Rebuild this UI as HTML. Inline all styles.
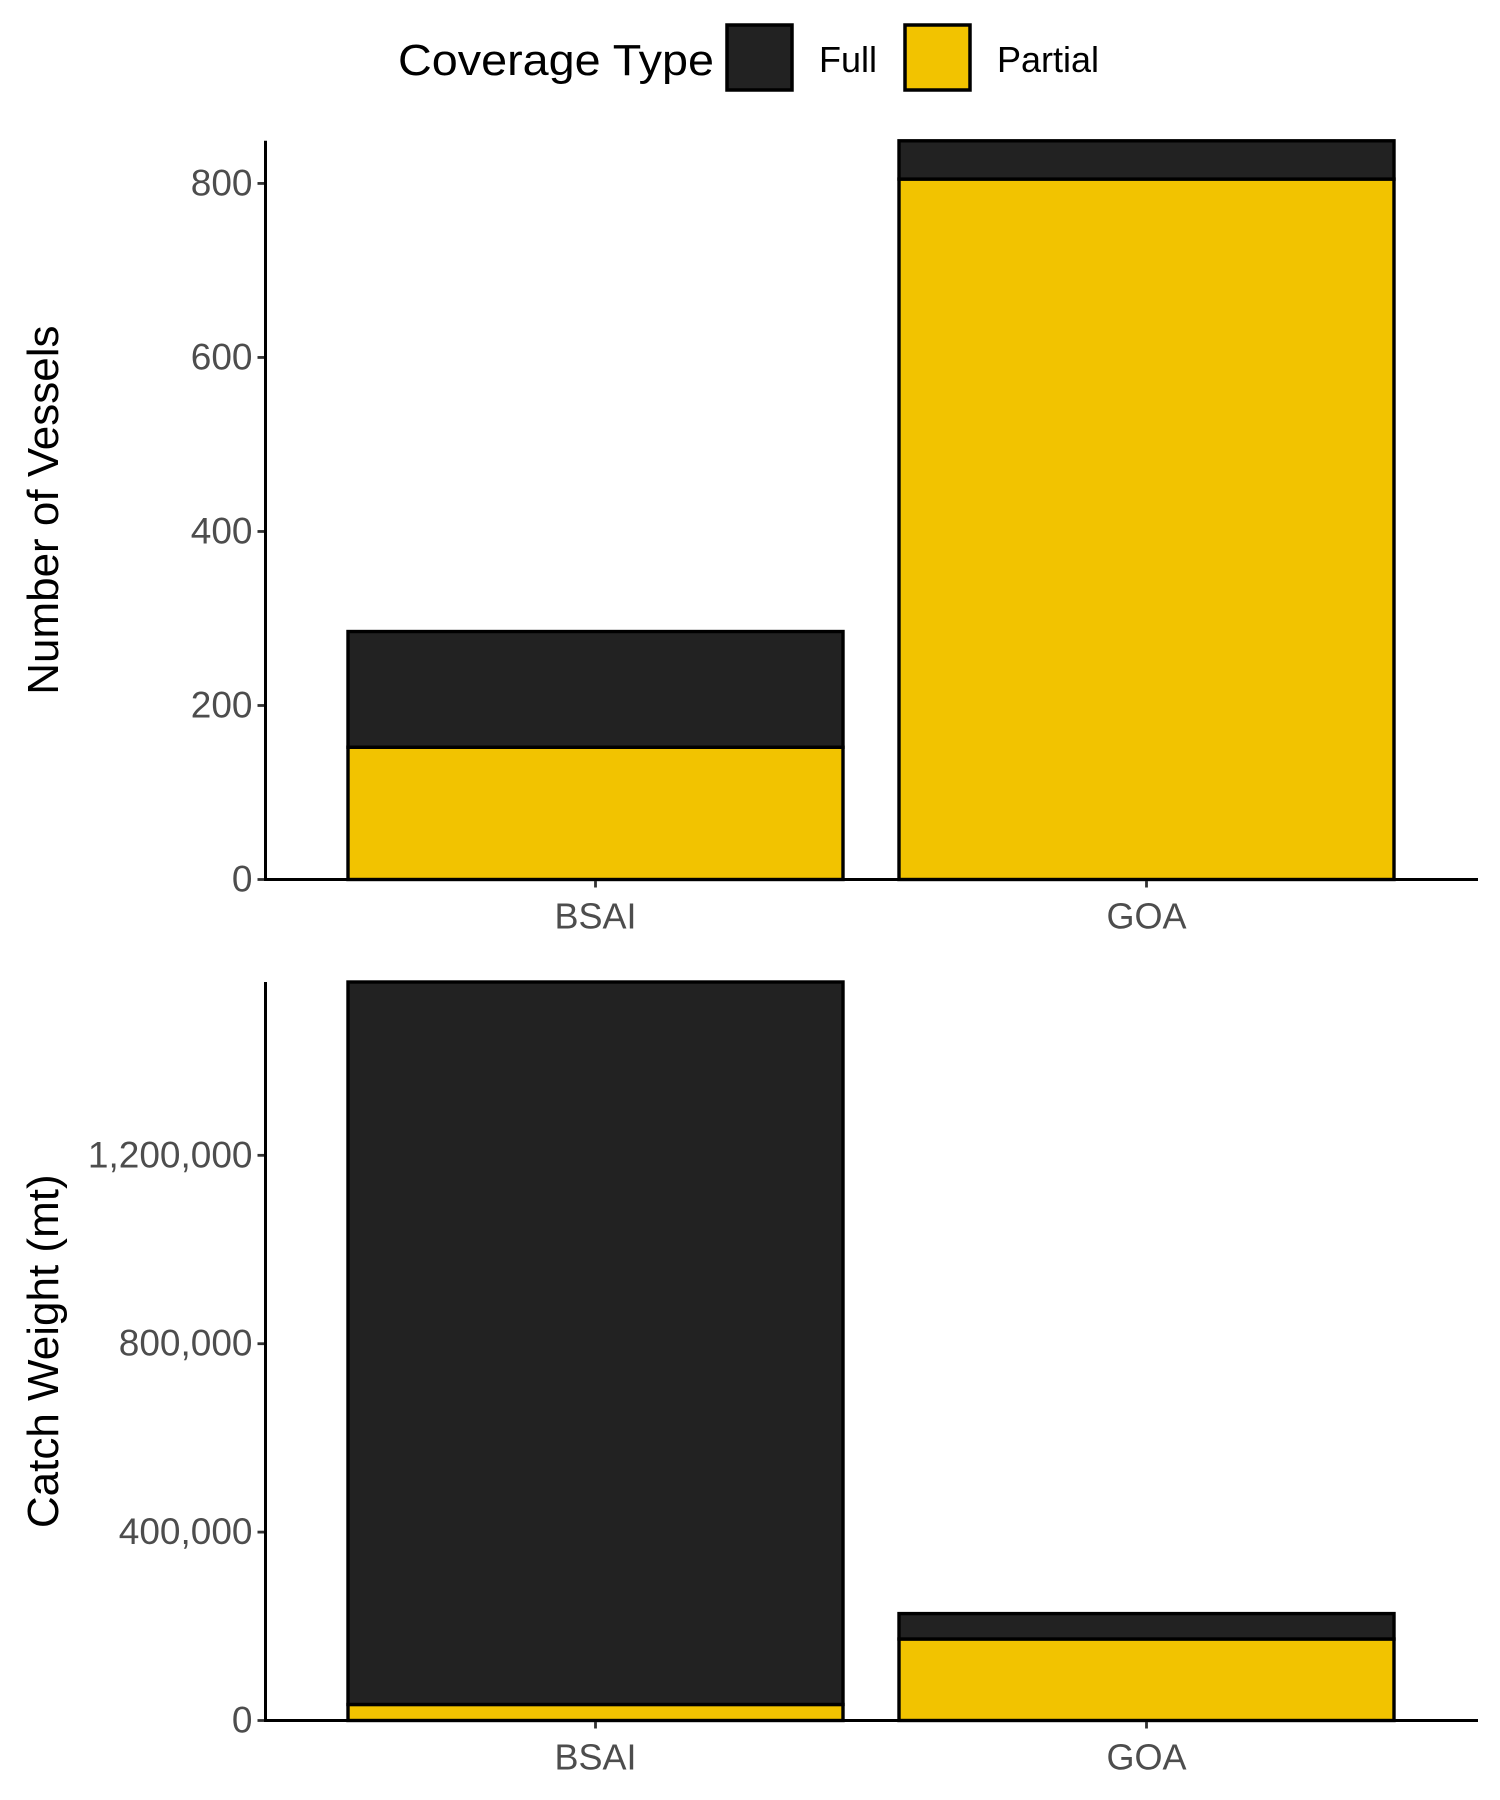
<!DOCTYPE html>
<html><head><meta charset="utf-8"><style>
html,body{margin:0;padding:0;background:#fff;}
svg{display:block;font-family:"Liberation Sans",Arial,sans-serif;}
</style></head><body>
<svg id="chart" width="1500" height="1800" viewBox="0 0 1500 1800" xmlns="http://www.w3.org/2000/svg">
<g>
<text x="398" y="75" font-size="44" fill="#000" textLength="316" lengthAdjust="spacingAndGlyphs">Coverage Type</text>
<rect x="727" y="25" width="65" height="65" fill="#222" stroke="#000" stroke-width="3.5"/>
<text x="819" y="72" font-size="36" fill="#000">Full</text>
<rect x="905" y="25" width="65" height="65" fill="#F2C300" stroke="#000" stroke-width="3.5"/>
<text x="997" y="72" font-size="36" fill="#000">Partial</text>
</g>
<g id="p1"></g>
<g id="p2"></g>
</svg>
<script>
const categories = ["BSAI", "GOA"];
const vesselsPartial = [152, 805];
const vesselsFull = [133, 44];
const vesselTicks = [0, 200, 400, 600, 800];
const vesselTickLabels = ["0", "200", "400", "600", "800"];
const catchPartial = [34000, 173000];
const catchFull = [1534000, 54000];
const catchTicks = [0, 400000, 800000, 1200000];
const catchTickLabels = ["0", "400,000", "800,000", "1,200,000"];

const NS = "http://www.w3.org/2000/svg";
function mk(parent, tag, attrs) {
  const e = document.createElementNS(NS, tag);
  for (const k in attrs) e.setAttribute(k, attrs[k]);
  parent.appendChild(e);
  return e;
}
function panel(g, top, bottom, partial, full, ticks, tickLabels, title, key) {
  const x0 = 265.5, x1 = 1478;
  const totals = partial.map((p, i) => p + full[i]);
  const ymax = Math.max(...totals);
  const y = v => bottom - (v / ymax) * (bottom - top);
  const bandStart = 348, step = 551, bw = 495;
  const xc = i => bandStart + i * step + bw / 2;
  categories.forEach((c, i) => {
    const left = xc(i) - bw / 2;
    const rp = mk(g, "rect", {x: left, y: y(partial[i]), width: bw, height: bottom - y(partial[i]), fill: "#F2C300", stroke: "#000", "stroke-width": 3.4});
    
    
    const rf = mk(g, "rect", {x: left, y: y(totals[i]), width: bw, height: y(partial[i]) - y(totals[i]), fill: "#222", stroke: "#000", "stroke-width": 3.4});
    
    
    const t = mk(g, "line", {x1: xc(i), x2: xc(i), y1: bottom, y2: bottom + 8, stroke: "#333", "stroke-width": 2.8});
    
    
    const lb = mk(g, "text", {x: xc(i), y: bottom + 49, "font-size": 36, fill: "#4d4d4d", "text-anchor": "middle"});
    lb.textContent = c;
    
    
  });
  ticks.forEach((v, i) => {
    const t = mk(g, "line", {x1: x0 - 8, x2: x0, y1: y(v), y2: y(v), stroke: "#333", "stroke-width": 2.8});
    
    
    const lb = mk(g, "text", {x: x0 - 13, y: y(v) + 12, "font-size": 37, fill: "#4d4d4d", "text-anchor": "end"});
    lb.textContent = tickLabels[i];
    
    
  });
  const ya = mk(g, "line", {x1: x0, x2: x0, y1: top, y2: bottom + 1.4, stroke: "#000", "stroke-width": 3});
  
  
  const xa = mk(g, "line", {x1: x0 - 1.4, x2: x1, y1: bottom, y2: bottom, stroke: "#000", "stroke-width": 3});
  
  
  const cy = (top + bottom) / 2;
  const tt = mk(g, "text", {x: 58, y: cy, "font-size": 44, fill: "#000", "text-anchor": "middle", transform: "rotate(-90 58 " + cy + ")"});
  tt.textContent = title;
  
  
}
panel(document.getElementById("p1"), 140.8, 879.5, vesselsPartial, vesselsFull, vesselTicks, vesselTickLabels, "Number of Vessels", "vessels");
panel(document.getElementById("p2"), 982, 1720.5, catchPartial, catchFull, catchTicks, catchTickLabels, "Catch Weight (mt)", "catch");
</script>
</body></html>
